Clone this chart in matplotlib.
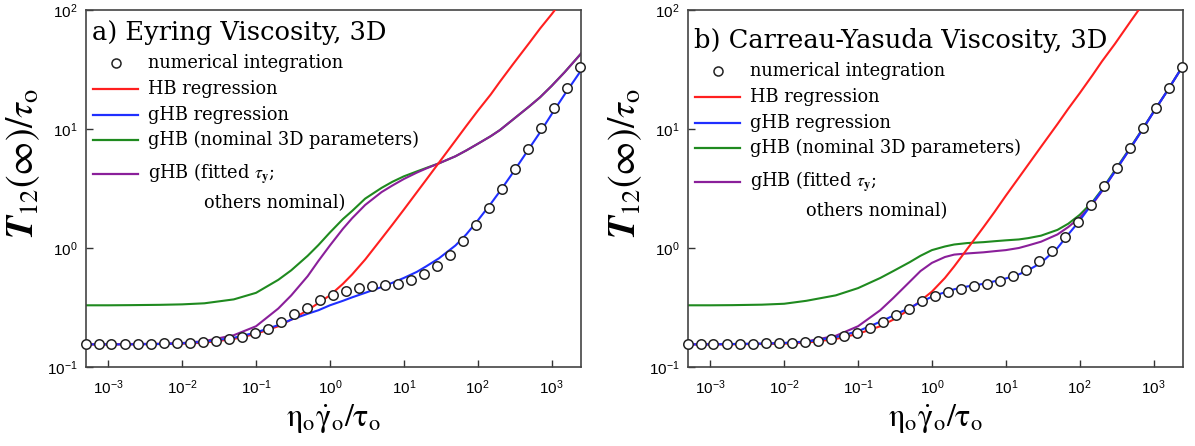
import matplotlib
matplotlib.use("Agg")
import matplotlib.pyplot as plt
from matplotlib.ticker import FixedLocator, NullLocator

# numerical integration points (shared x)
x_pts = [5.0e-4, 7.5e-4, 1.1e-3, 1.7e-3, 2.5e-3, 3.8e-3, 5.7e-3, 8.5e-3, 0.0128, 0.0192,
         0.0288, 0.0432, 0.0649, 0.0973, 0.146, 0.219, 0.328, 0.493, 0.739, 1.11,
         1.66, 2.49, 3.74, 5.61, 8.42, 12.6, 18.9, 28.4, 42.6, 63.9,
         95.8, 144, 216, 323, 485, 728, 1091, 1637, 2455]
eyring_pts = [0.157, 0.157, 0.157, 0.157, 0.157, 0.157, 0.159, 0.160, 0.160, 0.162,
              0.165, 0.171, 0.179, 0.193, 0.21, 0.239, 0.277, 0.315, 0.363, 0.405,
              0.435, 0.461, 0.476, 0.486, 0.50, 0.54, 0.60, 0.706, 0.867, 1.15,
              1.55, 2.18, 3.15, 4.65, 6.75, 10.1, 15.0, 22.2, 33.2]
carreau_pts = [0.157, 0.157, 0.157, 0.157, 0.157, 0.157, 0.158, 0.159, 0.160, 0.162,
               0.165, 0.173, 0.181, 0.194, 0.213, 0.239, 0.272, 0.309, 0.356, 0.395,
               0.426, 0.455, 0.479, 0.50, 0.533, 0.58, 0.656, 0.78, 0.95, 1.23,
               1.65, 2.32, 3.3, 4.7, 6.9, 10.2, 15.1, 22.3, 33.5]

# curves (shared x grid)
x_curve = [5e-4, 1e-3, 2e-3, 5e-3, 0.01, 0.02, 0.05, 0.1, 0.2, 0.3, 0.5, 0.7, 1, 1.5, 2, 3,
           5, 7, 10, 15, 20, 30, 50, 70, 100, 150, 200, 300, 500, 700, 1000, 1500, 2500]

eyring_hb = [0.155, 0.155, 0.155, 0.156, 0.157, 0.16, 0.172, 0.19, 0.22, 0.25, 0.30, 0.345,
             0.40, 0.50, 0.60, 0.80, 1.2, 1.57, 2.1, 2.94, 3.73, 5.23, 8.0, 10.6, 14.2, 19.5,
             25, 35, 53, 70, 92, 128, 195]
eyring_ghb = [0.155, 0.155, 0.155, 0.156, 0.158, 0.163, 0.176, 0.195, 0.225, 0.25, 0.28, 0.30,
              0.33, 0.36, 0.385, 0.42, 0.47, 0.51, 0.56, 0.63, 0.70, 0.82, 1.05, 1.3, 1.7,
              2.35, 3.0, 4.3, 6.9, 9.4, 13.3, 19.5, 31]
eyring_nom = [0.33, 0.33, 0.331, 0.333, 0.336, 0.343, 0.37, 0.42, 0.54, 0.65, 0.86, 1.06,
              1.35, 1.75, 2.05, 2.6, 3.2, 3.6, 4.0, 4.4, 4.7, 5.15, 5.9, 6.6, 7.5, 8.7, 9.8,
              12, 15.5, 18.5, 23, 30, 43]
eyring_fit = [0.155, 0.155, 0.156, 0.157, 0.159, 0.165, 0.185, 0.22, 0.31, 0.40, 0.58, 0.78,
              1.05, 1.45, 1.78, 2.3, 2.95, 3.35, 3.8, 4.3, 4.65, 5.15, 5.9, 6.6, 7.5, 8.7, 9.8,
              12, 15.5, 18.5, 23, 30, 43]

carreau_hb = [0.155, 0.155, 0.155, 0.156, 0.157, 0.16, 0.172, 0.19, 0.22, 0.25, 0.305, 0.36,
              0.43, 0.56, 0.70, 0.98, 1.5, 2.0, 2.75, 3.9, 5.0, 7.1, 11, 14.8, 20, 28.5, 37,
              52, 82, 110, 150, 210, 330]
carreau_ghb = [0.155, 0.155, 0.156, 0.157, 0.159, 0.163, 0.178, 0.20, 0.24, 0.27, 0.315, 0.35,
               0.39, 0.425, 0.45, 0.475, 0.50, 0.525, 0.555, 0.60, 0.65, 0.75, 1.0, 1.3, 1.7,
               2.4, 3.05, 4.4, 7.1, 9.8, 13.9, 20.5, 34]
carreau_nom = [0.33, 0.33, 0.331, 0.334, 0.34, 0.36, 0.40, 0.46, 0.56, 0.64, 0.76, 0.86,
               0.96, 1.03, 1.07, 1.10, 1.12, 1.14, 1.16, 1.18, 1.21, 1.27, 1.42, 1.6, 1.9,
               2.45, 3.1, 4.5, 7.2, 9.9, 14, 20.5, 34]
carreau_fit = [0.155, 0.155, 0.156, 0.157, 0.159, 0.164, 0.183, 0.22, 0.30, 0.38, 0.52, 0.64,
               0.75, 0.84, 0.88, 0.90, 0.92, 0.94, 0.96, 1.0, 1.05, 1.13, 1.3, 1.5, 1.8,
               2.35, 3.0, 4.4, 7.1, 9.8, 13.9, 20.5, 34]

x_ticks = [1e-3, 1e-2, 1e-1, 1, 10, 100, 1000]
y_ticks = [0.1, 1, 10, 100]

titles = ["a) Eyring Viscosity, 3D", "b) Carreau-Yasuda Viscosity, 3D"]
legend_labels = ["numerical integration", "HB regression", "gHB regression",
                 "gHB (nominal 3D parameters)", r"gHB (fitted $\tau_\mathbf{y}$;"]

RED, BLUE, GREEN, PURPLE = "#ff1f1f", "#1f2fff", "#1f8a1f", "#8a1f9a"

plt.rcParams["font.family"] = ["Liberation Sans", "DejaVu Sans"]
plt.rcParams["mathtext.fontset"] = "stix"

fig = plt.figure(figsize=(11.95, 4.46), dpi=100)
ax_a = fig.add_axes([86 / 1195, 79 / 446, 495 / 1195, 357 / 446])
ax_b = fig.add_axes([688 / 1195, 79 / 446, 495 / 1195, 357 / 446])

panels = [
    (ax_a, eyring_pts, eyring_hb, eyring_ghb, eyring_nom, eyring_fit, 0),
    (ax_b, carreau_pts, carreau_hb, carreau_ghb, carreau_nom, carreau_fit, 8),
]

for i, (ax, pts, hb, ghb, nom, fit, dy) in enumerate(panels):
    ax.set_xscale("log")
    ax.set_yscale("log")
    lw = 1.5
    ax.plot(x_curve, nom, color=GREEN, lw=lw, zorder=2)
    ax.plot(x_curve, fit, color=PURPLE, lw=lw, zorder=2)
    ax.plot(x_curve, hb, color=RED, lw=lw, zorder=3)
    ax.plot(x_curve, ghb, color=BLUE, lw=lw, zorder=3)
    ax.plot(x_pts, pts, "o", ms=6.8, mfc="white", mec="#222222", mew=1.1,
            zorder=5, clip_on=False)
    ax.set_xlim(5e-4, 2.5e3)
    ax.set_ylim(0.1, 100)

    ax.xaxis.set_major_locator(FixedLocator(x_ticks))
    ax.yaxis.set_major_locator(FixedLocator(y_ticks))
    ax.xaxis.set_minor_locator(NullLocator())
    ax.yaxis.set_minor_locator(NullLocator())
    ax.tick_params(direction="in", length=5, width=1, color="#333333",
                   labelsize=11, top=False, right=False)
    ax.tick_params(axis="x", pad=8)
    ax.tick_params(axis="y", pad=6)
    for s in ax.spines.values():
        s.set_color("#444444")
        s.set_linewidth(1.2)

    ax.set_xlabel(r"$\mathrm{\eta_o\dot{\gamma}_o/\tau_o}$", fontsize=23, labelpad=4)
    ax.set_ylabel(r"$\mathbfit{T}_{12}(\infty)/\tau_\mathrm{o}$", fontsize=27)
    ax.yaxis.set_label_coords(-0.088, 0.57)

    # title inside the axes
    ax.text(0.013, 1 - (30 + dy) / 357, titles[i], transform=ax.transAxes,
            family="DejaVu Serif", fontsize=18.5, va="baseline", ha="left")

    # hand-drawn legend
    ys = [63, 89, 115, 140, 174]
    tx = 62 / 495
    for j, lab in enumerate(legend_labels):
        yy = 1 - (ys[j] - 10 + dy) / 357
        if j == 0:
            ax.plot([30 / 495], [yy], "o", ms=6.5, mfc="white", mec="#222222", mew=1.1,
                    transform=ax.transAxes)
        else:
            c = [RED, BLUE, GREEN, PURPLE][j - 1]
            ax.plot([7 / 495, 52 / 495], [yy, yy], color=c, lw=1.6, transform=ax.transAxes)
        ax.text(tx, yy, lab, transform=ax.transAxes, family="DejaVu Serif",
                fontsize=12.8, va="center", ha="left")
    ax.text(118 / 495, 1 - (203 - 10 + dy) / 357, "others nominal)", transform=ax.transAxes,
            family="DejaVu Serif", fontsize=12.8, va="center", ha="left")

fig.savefig("out.png", dpi=100)
